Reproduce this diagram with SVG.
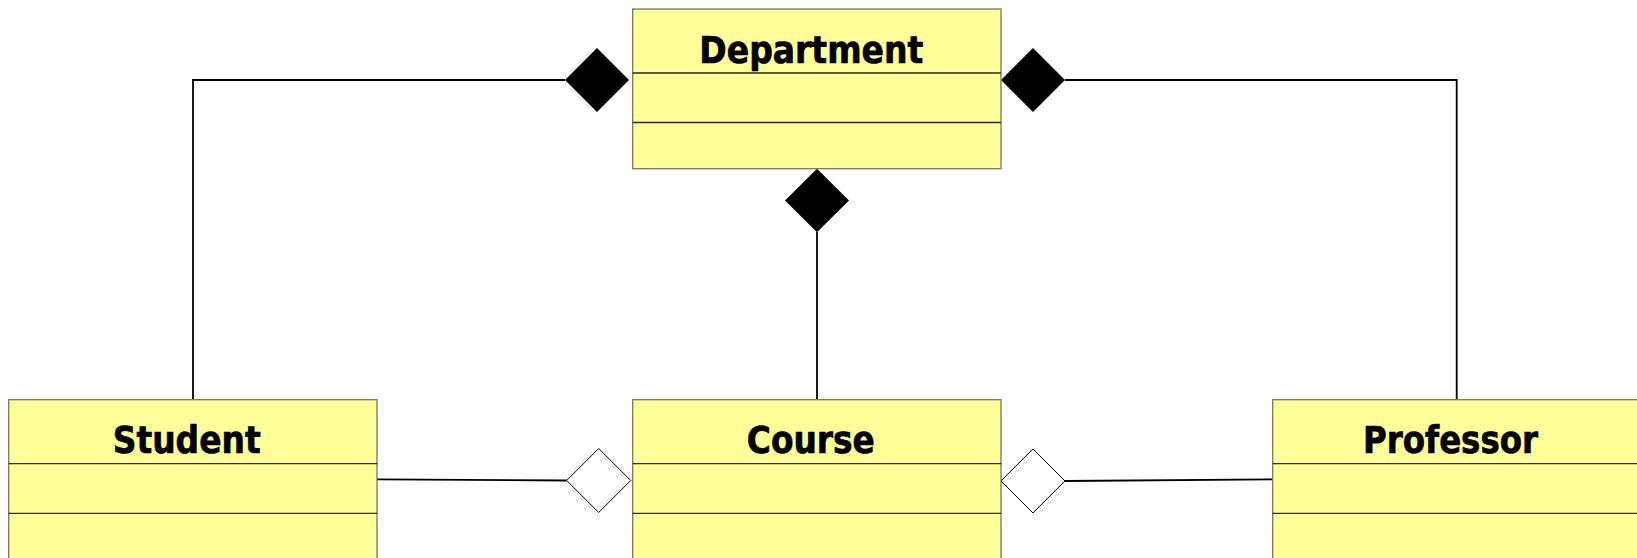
<svg xmlns="http://www.w3.org/2000/svg" width="1637" height="558" viewBox="0 0 1637 558">
<style>
.box{fill:#ffff99;stroke:#77775a;stroke-width:1.3}
.div{stroke:#2a2a20;stroke-width:1.3}
.title{font-family:"DejaVu Sans",Verdana,sans-serif;font-weight:bold;font-size:37px;fill:#000;stroke:#000;stroke-width:0.7;text-anchor:middle}
.conn{fill:none;stroke:#000;stroke-width:1.8}
.comp{fill:#000;stroke:none}
.agg{fill:#fff;stroke:#000;stroke-width:1}
</style>
<rect width="1637" height="558" fill="#fff"/>
<g id="connectors">
<polyline class="conn" points="193,399.7 193,80 565,80"/>
<polygon class="comp" points="565,80 597,48 629,80 597,112"/>
<polyline class="conn" points="1065,80 1456.7,80 1456.7,399.7"/>
<polygon class="comp" points="1001,80 1033,48 1065,80 1033,112"/>
<line class="conn" x1="817" y1="232" x2="817" y2="399.7"/>
<polygon class="comp" points="817,168.7 849,200.5 817,232.3 785,200.5"/>
<line class="conn" x1="377" y1="479.3" x2="566.7" y2="480.5"/>
<polygon class="agg" points="566.7,480.5 598.7,448.5 630.7,480.5 598.7,512.5"/>
<line class="conn" x1="1065" y1="481" x2="1272.7" y2="479.3"/>
<polygon class="agg" points="1001,481 1033,449 1065,481 1033,513"/>
</g>
<g id="department">
<rect class="box" x="632.7" y="9" width="368.3" height="159.7"/>
<line class="div" x1="632.7" y1="73" x2="1001" y2="73"/>
<line class="div" x1="632.7" y1="122.5" x2="1001" y2="122.5"/>
<text class="title" x="811.3" y="63.3" textLength="224" lengthAdjust="spacingAndGlyphs">Department</text>
</g>
<g id="student">
<rect class="box" x="8.7" y="399.7" width="368.3" height="170"/>
<line class="div" x1="8.7" y1="463.7" x2="377" y2="463.7"/>
<line class="div" x1="8.7" y1="513.3" x2="377" y2="513.3"/>
<text class="title" x="186.7" y="453" textLength="148" lengthAdjust="spacingAndGlyphs">Student</text>
</g>
<g id="course">
<rect class="box" x="632.7" y="399.7" width="368.3" height="170"/>
<line class="div" x1="632.7" y1="463.7" x2="1001" y2="463.7"/>
<line class="div" x1="632.7" y1="513.3" x2="1001" y2="513.3"/>
<text class="title" x="810.8" y="453" textLength="128" lengthAdjust="spacingAndGlyphs">Course</text>
</g>
<g id="professor">
<rect class="box" x="1272.7" y="399.7" width="368.3" height="170"/>
<line class="div" x1="1272.7" y1="463.7" x2="1641" y2="463.7"/>
<line class="div" x1="1272.7" y1="513.3" x2="1641" y2="513.3"/>
<text class="title" x="1450.5" y="453" textLength="175" lengthAdjust="spacingAndGlyphs">Professor</text>
</g>
</svg>
